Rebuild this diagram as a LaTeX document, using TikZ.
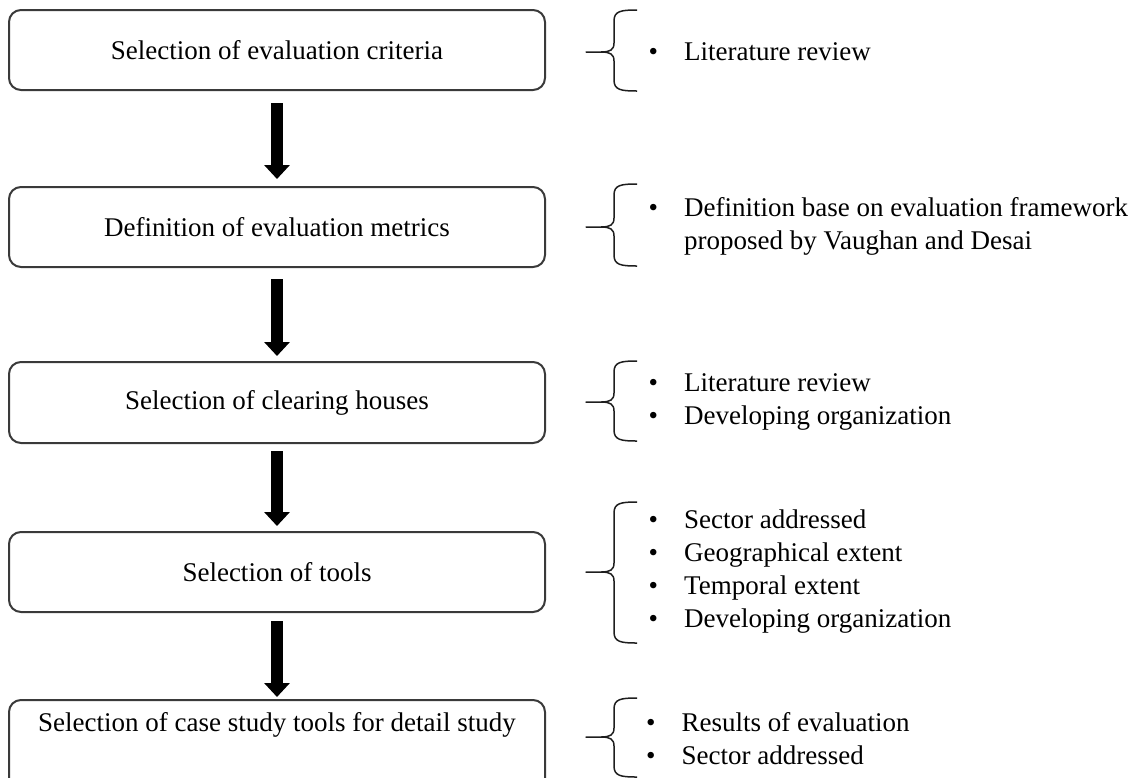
\documentclass[tikz,border=0pt]{standalone}
\usepackage{fontspec}
\setmainfont{Liberation Serif}
\usetikzlibrary{arrows.meta}
\definecolor{boxgray}{HTML}{3A3A3A}
\definecolor{bracegray}{HTML}{1E1E1E}
\newcommand{\mybrace}[3]{%
  \draw[bracket] (637,#1) .. controls (621,#1) and (614,#1+1) .. (614,#1+11)
    -- (614,#2-9) .. controls (614,#2-2) and (610,#2) .. (601,#2) -- (586,#2)
    -- (601,#2) .. controls (610,#2) and (614,#2+2) .. (614,#2+9)
    -- (614,#3-11) .. controls (614,#3-1) and (621,#3) .. (637,#3);}
\begin{document}
\begin{tikzpicture}[x=1pt,y=-1pt,
  stepbox/.style={draw=boxgray, line width=2pt, rounded corners=12pt,
    minimum width=536pt, minimum height=80pt, inner sep=0pt,
    font=\fontsize{27}{33}\selectfont, text=black},
  flow/.style={line width=11.5pt, draw=black, -{Triangle[width=25pt,length=14pt]}},
  bracket/.style={line width=1.5pt, draw=bracegray, line join=round},
  blist/.style={anchor=west, inner sep=0pt, align=left,
    font=\fontsize{27}{33}\selectfont}]
\useasboundingbox (0,0) rectangle (1135,777);
\clip (0,0) rectangle (1135,777);

% process boxes
\node[stepbox] (b1) at (277,50) {Selection of evaluation criteria};
\node[stepbox] (b2) at (277,227) {Definition of evaluation metrics};
\node[stepbox, minimum height=81pt] (b3) at (277,402.5) {Selection of clearing houses};
\node[stepbox] (b4) at (277,572) {Selection of tools};
\node[stepbox, anchor=north, text height=18.5pt, text depth=60pt, inner ysep=12.5pt]
  (b5) at (277,699) {Selection of case study tools for detail study};

% arrows
\draw[flow, shorten <=12pt, shorten >=7pt] (b1.south) -- (b2.north);
\draw[flow, shorten <=11pt, shorten >=5pt] (b2.south) -- (b3.north);
\draw[flow, shorten <=7pt, shorten >=5pt] (b3.south) -- (b4.north);
\draw[flow, shorten <=8pt, shorten >=2pt] (b4.south) -- (b5.north);

% braces
\mybrace{10}{52}{91}
\mybrace{184}{227}{266}
\mybrace{361}{402}{441}
\mybrace{502}{572}{643}
\mybrace{698}{737}{777}

% bullet lists
\node[blist] (l1) at (648.5,52) {\makebox[35.5pt][l]{\textbullet}Literature review};
\node[blist] (l2) at (648.5,226) {\makebox[35.5pt][l]{\textbullet}Definition base on evaluation framework\\
  \hspace*{35.5pt}proposed by Vaughan and Desai};
\node[blist] (l3) at (648.5,402) {\makebox[35.5pt][l]{\textbullet}Literature review\\
  \makebox[35.5pt][l]{\textbullet}Developing organization};
\node[blist] (l4) at (648.5,572) {\makebox[35.5pt][l]{\textbullet}Sector addressed\\
  \makebox[35.5pt][l]{\textbullet}Geographical extent\\
  \makebox[35.5pt][l]{\textbullet}Temporal extent\\
  \makebox[35.5pt][l]{\textbullet}Developing organization};
\node[blist] (l5) at (646,739) {\makebox[35.5pt][l]{\textbullet}Results of evaluation\\
  \makebox[35.5pt][l]{\textbullet}Sector addressed};
\end{tikzpicture}
\end{document}
